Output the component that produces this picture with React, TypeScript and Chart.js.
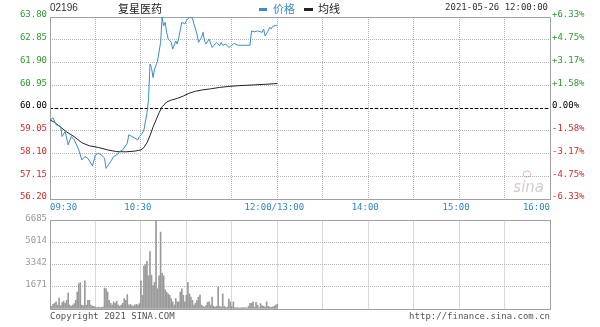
import React, { useEffect, useRef } from 'react';
import { Chart, registerables } from 'chart.js';
Chart.register(...registerables);

const stockCode = '02196';
const stockName = '复星医药';
const dateText = '2021-05-26 12:00:00';
const legendPrice = '价格';
const legendAvg = '均线';
const copyrightText = 'Copyright 2021 SINA.COM';
const urlText = 'http://finance.sina.com.cn';
const prevClose = 60.0;

const priceMinutes = [0, 2, 4, 7, 8, 10, 12, 14, 16, 19, 21, 23, 25, 28, 30, 32, 34, 36, 37, 40, 42, 44, 46, 48, 51, 52, 54, 56, 58, 59, 61, 62, 64, 65, 66, 67, 68, 69, 71, 73, 74, 75, 76, 77, 78, 80, 81, 83, 84, 85, 87, 89, 90, 92, 94, 95, 97, 98, 100, 101, 102, 103, 105, 107, 108, 110, 112, 113, 114, 116, 118, 119, 121, 122, 124, 126, 129, 132, 133, 135, 137, 140, 141, 142, 144, 145, 146, 147, 150];
const priceValues = [59.49, 59.59, 59.3, 59.23, 58.81, 59.02, 58.46, 58.81, 58.67, 58.25, 57.83, 57.97, 57.9, 57.58, 58.04, 58.11, 58.04, 57.9, 57.48, 57.76, 57.97, 58.04, 58.18, 58.25, 58.53, 58.88, 58.81, 58.74, 58.67, 58.81, 58.95, 59.09, 59.8, 60.35, 61.83, 61.69, 61.27, 61.62, 61.96, 62.74, 63.79, 63.43, 63.58, 63.16, 62.88, 62.74, 62.46, 62.8, 62.67, 62.95, 63.58, 63.51, 63.65, 63.79, 63.75, 63.51, 63.09, 62.74, 62.95, 63.16, 62.8, 62.67, 62.88, 62.53, 62.6, 62.74, 62.6, 62.74, 62.62, 62.67, 62.53, 62.57, 62.67, 62.69, 62.62, 62.62, 62.62, 62.62, 63.22, 63.18, 63.22, 63.16, 63.3, 63.01, 63.22, 63.37, 63.3, 63.41, 63.46];

const avgMinutes = [0, 3, 7, 11, 16, 21, 26, 32, 38, 44, 50, 56, 60, 62, 64, 66, 68, 70, 72, 74, 77, 80, 84, 88, 92, 96, 100, 106, 112, 118, 124, 130, 136, 142, 150];
const avgValues = [59.5, 59.4, 59.2, 59.0, 58.8, 58.55, 58.42, 58.35, 58.25, 58.18, 58.17, 58.2, 58.25, 58.35, 58.55, 58.85, 59.2, 59.5, 59.8, 60.05, 60.25, 60.33, 60.4, 60.5, 60.62, 60.7, 60.75, 60.8, 60.86, 60.9, 60.93, 60.95, 60.97, 60.99, 61.02];

const volumeValues = [
  300, 200, 350, 420, 540, 300, 830, 250, 490, 590,
  420, 660, 1200, 300, 200, 300, 400, 660, 1270, 1890,
  2000, 300, 250, 2130, 300, 660, 660, 300, 220, 200,
  150, 100, 150, 100, 120, 150, 1570, 1520, 1270, 660,
  420, 300, 540, 420, 590, 300, 200, 300, 420, 780,
  660, 1080, 300, 350, 250, 200, 300, 350, 300, 400,
  2130, 1030, 3230, 3360, 3600, 2500, 4340, 2550, 1760, 2010,
  6685, 1520, 2500, 5800, 2700, 2500, 1440, 1270, 1150, 1030,
  780, 540, 300, 780, 540, 540, 1270, 1520, 1030, 540,
  1030, 2010, 1150, 900, 660, 300, 420, 660, 900, 1060,
  300, 200, 150, 250, 500, 550, 300, 900, 200, 150,
  200, 1640, 200, 150, 1150, 200, 100, 150, 740, 540,
  200, 540, 100, 80, 100, 60, 80, 100, 80, 100,
  60, 200, 420, 420, 540, 150, 500, 300, 100, 400,
  250, 200, 150, 540, 200, 150, 120, 150, 200, 300,
  350,
];

const priceTicks = [56.2, 57.15, 58.1, 59.05, 60.0, 60.95, 61.9, 62.85, 63.8];
const pctTicks = [-6.33, -4.75, -3.17, -1.58, 0, 1.58, 3.17, 4.75, 6.33];
const pctLabels = ['-6.33%', '-4.75%', '-3.17%', '-1.58%', '0.00%', '+1.58%', '+3.17%', '+4.75%', '+6.33%'];
const volumeTicks = [0, 1671, 3342, 5014, 6685];
const timeGridMinutes = [0, 30, 60, 90, 120, 150, 180, 210, 240, 270, 300, 330];
const timeLabelMinutes = [0, 60, 150, 210, 270, 330];
const timeLabelTexts = ['09:30', '10:30', '12:00/13:00', '14:00', '15:00', '16:00'];

const MONO = '"DejaVu Sans Mono", monospace';
const CJK = '"Noto Sans CJK SC", sans-serif';
const BLUE = '#3a8ccc';
const GREEN = '#2f9a2f';
const RED = '#d42a2a';
const GRID = '#b4b4b4';
const FRAME = '#a0a0a0';

function frame(chart: any) {
  const { ctx, chartArea: a } = chart;
  ctx.save();
  ctx.strokeStyle = FRAME;
  ctx.lineWidth = 1;
  ctx.setLineDash([]);
  const l = Math.round(a.left) + 0.5, t = Math.round(a.top) + 0.5;
  const r = Math.round(a.right) + 0.5, b = Math.round(a.bottom) + 0.5;
  ctx.strokeRect(l, t, r - l, b - t);
  ctx.restore();
}

const pricePlugin = {
  id: 'pricePlugin',
  beforeDatasetsDraw(chart: any) {
    const { ctx, chartArea: a, scales } = chart;
    const y = Math.round(scales.y.getPixelForValue(prevClose)) + 0.5;
    ctx.save();
    ctx.strokeStyle = '#000';
    ctx.lineWidth = 1;
    ctx.setLineDash([3, 2]);
    ctx.beginPath();
    ctx.moveTo(a.left, y);
    ctx.lineTo(a.right, y);
    ctx.stroke();
    ctx.restore();
    frame(chart);
    // watermark
    ctx.save();
    ctx.fillStyle = 'rgba(175,165,170,0.55)';
    ctx.font = 'italic 15px "DejaVu Sans", sans-serif';
    ctx.textAlign = 'right';
    ctx.textBaseline = 'alphabetic';
    ctx.fillText('sina', a.right - 6, a.bottom - 7);
    ctx.strokeStyle = 'rgba(215,130,130,0.6)';
    ctx.beginPath();
    ctx.ellipse(a.right - 23, a.bottom - 25, 4, 3, 0, 0, Math.PI * 2);
    ctx.stroke();
    ctx.restore();
  },
  afterDraw(chart: any) {
    const { ctx, chartArea: a, scales } = chart;
    ctx.save();
    ctx.textBaseline = 'middle';
    // time labels
    ctx.font = '9px ' + MONO;
    ctx.fillStyle = '#2f86c4';
    timeLabelMinutes.forEach((m, i) => {
      const x = scales.x.getPixelForValue(m);
      const txt = timeLabelTexts[i];
      if (i === 0) { ctx.textAlign = 'left'; ctx.fillText(txt, x, a.bottom + 9); }
      else if (i === timeLabelMinutes.length - 1) { ctx.textAlign = 'right'; ctx.fillText(txt, x, a.bottom + 9); }
      else { ctx.textAlign = 'center'; ctx.fillText(txt, x - 3, a.bottom + 9); }
    });
    // header
    ctx.textAlign = 'left';
    ctx.fillStyle = '#333';
    ctx.font = '10px "Liberation Sans", sans-serif';
    ctx.fillText(stockCode, a.left, 8);
    ctx.font = '11px ' + CJK;
    ctx.fillStyle = '#222';
    ctx.fillText(stockName, 118, 9);
    ctx.fillStyle = BLUE;
    ctx.fillRect(259, 8, 8, 3);
    ctx.fillText(legendPrice, 273, 9);
    ctx.fillStyle = '#222';
    ctx.fillRect(304, 8, 9, 3);
    ctx.fillText(legendAvg, 318, 9);
    ctx.font = '9px ' + MONO;
    ctx.fillStyle = '#333';
    ctx.textAlign = 'right';
    ctx.fillText(dateText, a.right - 2, 8);
    ctx.restore();
  },
};

const volumePlugin = {
  id: 'volumePlugin',
  beforeDatasetsDraw(chart: any) {
    frame(chart);
  },
  afterDraw(chart: any) {
    const { ctx, chartArea: a } = chart;
    ctx.save();
    ctx.font = '9px ' + MONO;
    ctx.fillStyle = '#555';
    ctx.textBaseline = 'middle';
    ctx.textAlign = 'left';
    ctx.fillText(copyrightText, a.left, a.bottom + 8);
    ctx.textAlign = 'right';
    ctx.fillText(urlText, a.right, a.bottom + 8);
    ctx.restore();
  },
};

const xScale = (height: number) => ({
  type: 'linear' as const,
  min: 0,
  max: 330,
  offset: false,
  afterBuildTicks: (s: any) => { s.ticks = timeGridMinutes.map((v) => ({ value: v })); },
  ticks: { display: false },
  grid: { color: GRID, drawTicks: false, offset: false },
  border: { display: false, dash: [1, 1] },
  afterFit: (s: any) => { s.height = height; },
});

export default function App() {
  const priceRef = useRef<HTMLCanvasElement>(null);
  const volRef = useRef<HTMLCanvasElement>(null);

  useEffect(() => {
    document.body.style.margin = '0';
    const priceChart = new Chart(priceRef.current as HTMLCanvasElement, {
      type: 'line',
      data: {
        datasets: [
          {
            label: legendPrice,
            data: priceMinutes.map((m, i) => ({ x: m, y: priceValues[i] })),
            borderColor: BLUE,
            borderWidth: 1,
            pointRadius: 0,
            tension: 0,
            yAxisID: 'y',
          },
          {
            label: legendAvg,
            data: avgMinutes.map((m, i) => ({ x: m, y: avgValues[i] })),
            borderColor: '#222',
            borderWidth: 1,
            pointRadius: 0,
            tension: 0,
            yAxisID: 'y',
          },
        ],
      },
      options: {
        responsive: false,
        animation: false,
        layout: { padding: { top: 17, left: 0, right: 0, bottom: 0 } },
        plugins: { legend: { display: false }, tooltip: { enabled: false } },
        scales: {
          x: xScale(13) as any,
          y: {
            position: 'left',
            min: priceTicks[0],
            max: priceTicks[priceTicks.length - 1],
            afterBuildTicks: (s: any) => { s.ticks = priceTicks.map((v) => ({ value: v })); },
            ticks: {
              font: { family: MONO, size: 9 },
              padding: 3,
              labelOffset: -2,
              color: (c: any) => (c.tick.value > prevClose + 0.001 ? GREEN : c.tick.value < prevClose - 0.001 ? RED : '#000'),
              callback: (v: any) => Number(v).toFixed(2),
            },
            grid: { color: GRID, drawTicks: false },
            border: { display: false, dash: [1, 1] },
            afterFit: (s: any) => { s.width = 50; },
          },
          y2: {
            position: 'right',
            min: pctTicks[0],
            max: pctTicks[pctTicks.length - 1],
            afterBuildTicks: (s: any) => { s.ticks = pctTicks.map((v) => ({ value: v })); },
            ticks: {
              font: { family: MONO, size: 9 },
              padding: 2,
              labelOffset: -2,
              color: (c: any) => (c.tick.value > 0.001 ? GREEN : c.tick.value < -0.001 ? RED : '#000'),
              callback: (v: any) => pctLabels[pctTicks.indexOf(Number(v))] ?? '',
            },
            grid: { display: false, drawTicks: false },
            border: { display: false },
            afterFit: (s: any) => { s.width = 50; },
          },
        },
      } as any,
      plugins: [pricePlugin],
    });

    const volChart = new Chart(volRef.current as HTMLCanvasElement, {
      type: 'bar',
      data: {
        datasets: [
          {
            data: volumeValues.map((v, i) => ({ x: i, y: v })),
            backgroundColor: '#9a9a9a',
            barThickness: 1,
          },
        ],
      },
      options: {
        responsive: false,
        animation: false,
        layout: { padding: { top: 6, left: 0, right: 50, bottom: 0 } },
        plugins: { legend: { display: false }, tooltip: { enabled: false } },
        scales: {
          x: xScale(18) as any,
          y: {
            position: 'left',
            min: 0,
            max: volumeTicks[volumeTicks.length - 1],
            afterBuildTicks: (s: any) => { s.ticks = volumeTicks.map((v) => ({ value: v })); },
            ticks: {
              font: { family: MONO, size: 9 },
              padding: 3,
              labelOffset: -2,
              color: '#999',
              callback: (v: any) => (Number(v) === 0 ? '' : String(v)),
            },
            grid: { color: GRID, drawTicks: false },
            border: { display: false, dash: [1, 1] },
            afterFit: (s: any) => { s.width = 50; },
          },
        },
      } as any,
      plugins: [volumePlugin],
    });

    return () => {
      priceChart.destroy();
      volChart.destroy();
    };
  }, []);

  return (
    <div style={{ position: 'relative', width: 600, height: 327, background: '#fff' }}>
      <canvas ref={priceRef} width={600} height={212} style={{ position: 'absolute', left: 0, top: 0 }} />
      <canvas ref={volRef} width={600} height={115} style={{ position: 'absolute', left: 0, top: 212 }} />
    </div>
  );
}
